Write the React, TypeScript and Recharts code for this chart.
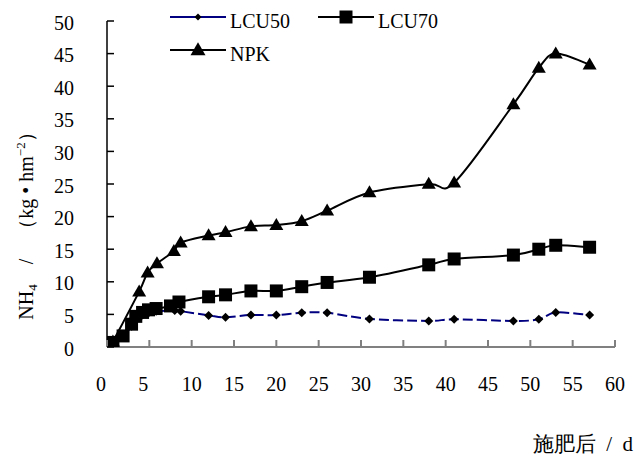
import React from 'react';
import { LineChart, Line, XAxis, YAxis, Legend } from 'recharts';

// ---- data ----
const lcu50Days = [0.7, 1.9, 2.9, 3.4, 4.2, 4.9, 5.8, 8, 8.7, 12, 14, 17, 20, 23, 26, 31, 38, 41, 48, 51, 53, 57];
const lcu50Values = [0.6, 1.6, 3.2, 4.3, 4.9, 5.2, 5.5, 5.6, 5.5, 4.85, 4.55, 4.9, 4.9, 5.25, 5.25, 4.3, 4.0, 4.25, 4.0, 4.25, 5.3, 4.9];

const lcu70Days = [0.7, 1.9, 2.9, 3.4, 4.2, 4.9, 5.8, 7.5, 8.5, 12, 14, 17, 20, 23, 26, 31, 38, 41, 48, 51, 53, 57];
const lcu70Values = [0.7, 1.7, 3.5, 4.7, 5.3, 5.7, 5.9, 6.3, 6.9, 7.7, 8.0, 8.6, 8.6, 9.25, 9.9, 10.7, 12.6, 13.5, 14.1, 15.0, 15.6, 15.3];

const npkDays = [0.7, 3.8, 4.8, 5.9, 7.9, 8.7, 12, 14, 17, 20, 23, 26, 31, 38, 41, 48, 51, 53, 57];
const npkValues = [0.8, 8.5, 11.4, 12.8, 14.7, 16.0, 17.1, 17.6, 18.5, 18.7, 19.3, 20.9, 23.7, 25.0, 25.2, 37.2, 42.8, 45.0, 43.3];

const xTicks = [0, 5, 10, 15, 20, 25, 30, 35, 40, 45, 50, 55, 60];
const yTicks = [0, 5, 10, 15, 20, 25, 30, 35, 40, 45, 50];

const seriesNames = ['LCU50', 'LCU70', 'NPK'];
const xTitle = '施肥后  /  d';

const toRows = (days: number[], vals: number[]) => days.map((d, i) => ({ day: d, value: vals[i] }));
const lcu50Data = toRows(lcu50Days, lcu50Values);
const lcu70Data = toRows(lcu70Days, lcu70Values);
const npkData = toRows(npkDays, npkValues);

const SERIF = "'Liberation Serif', serif";
const NAVY = '#000080';

// Excel-like smoothed line (Catmull-Rom through every point)
const smoothCurve: any = (context: any) => {
  let pts: number[][] = [];
  return {
    areaStart() {},
    areaEnd() {},
    lineStart() {
      pts = [];
    },
    point(x: number, y: number) {
      pts.push([+x, +y]);
    },
    lineEnd() {
      if (!pts.length) return;
      context.moveTo(pts[0][0], pts[0][1]);
      for (let i = 0; i < pts.length - 1; i++) {
        const p0 = pts[i - 1] || pts[i];
        const p1 = pts[i];
        const p2 = pts[i + 1];
        const p3 = pts[i + 2] || p2;
        context.bezierCurveTo(
          p1[0] + (p2[0] - p0[0]) / 6,
          p1[1] + (p2[1] - p0[1]) / 6,
          p2[0] - (p3[0] - p1[0]) / 6,
          p2[1] - (p3[1] - p1[1]) / 6,
          p2[0],
          p2[1],
        );
      }
    },
  };
};

// ---- markers ----
const diamondPath = (cx: number, cy: number, r: number) =>
  `M${cx},${cy - r}L${cx + r},${cy}L${cx},${cy + r}L${cx - r},${cy}Z`;
const squarePath = (cx: number, cy: number, h: number) =>
  `M${cx - h},${cy - h}H${cx + h}V${cy + h}H${cx - h}Z`;
const trianglePath = (cx: number, cy: number, w: number, h: number) =>
  `M${cx},${cy - h * 0.6}L${cx + w / 2},${cy + h * 0.4}L${cx - w / 2},${cy + h * 0.4}Z`;

const DiamondDot = (p: any) =>
  p.cx == null ? <g key={`dd-${p.index}`} /> : <path key={`dd-${p.index}`} d={diamondPath(p.cx, p.cy, 4.5)} fill="#000" />;
const SquareDot = (p: any) =>
  p.cx == null ? <g key={`sd-${p.index}`} /> : <path key={`sd-${p.index}`} d={squarePath(p.cx, p.cy, 6.5)} fill="#000" />;
const TriangleDot = (p: any) =>
  p.cx == null ? <g key={`td-${p.index}`} /> : <path key={`td-${p.index}`} d={trianglePath(p.cx, p.cy, 14, 12)} fill="#000" />;

// ---- ticks ----
const XTick = (props: any) => {
  const { x, y, payload } = props;
  const v = payload.value;
  const shift = String(v).length === 1 ? -6 : 0;
  return (
    <g>
      <line x1={x} y1={y} x2={x} y2={y - 7} stroke="#808080" strokeWidth={2} />
      <text x={x + shift} y={y + 44} textAnchor="middle" fontFamily={SERIF} fontSize={20} fill="#000">
        {v}
      </text>
    </g>
  );
};

const YTick = (props: any) => {
  const { x, y, payload } = props;
  return (
    <g>
      <line x1={x} y1={y} x2={x + 7} y2={y} stroke="#000" strokeWidth={1.5} />
      <text x={x - 33} y={y + 8.5} textAnchor="end" fontFamily={SERIF} fontSize={20} fill="#000">
        {payload.value}
      </text>
    </g>
  );
};

// ---- legend ----
const LegendBox = () => {
  const items = [
    { name: seriesNames[0], x: 10, y: 17, kind: 'diamond' },
    { name: seriesNames[1], x: 158, y: 17, kind: 'square' },
    { name: seriesNames[2], x: 10, y: 50, kind: 'triangle' },
  ];
  return (
    <svg width={320} height={70} style={{ display: 'block' }}>
      {items.map((it) => {
        const mx = it.x + 28;
        const color = it.kind === 'diamond' ? NAVY : '#000';
        return (
          <g key={it.name}>
            <line x1={it.x} y1={it.y} x2={it.x + 56} y2={it.y} stroke={color} strokeWidth={2} />
            {it.kind === 'diamond' && <path d={diamondPath(mx, it.y, 3.5)} fill="#000" />}
            {it.kind === 'square' && <path d={squarePath(mx, it.y, 6.5)} fill="#000" />}
            {it.kind === 'triangle' && <path d={trianglePath(mx, it.y, 15, 13)} fill="#000" />}
            <text x={it.x + 60} y={it.y + 11} fontFamily={SERIF} fontSize={20} fill="#000">
              {it.name}
            </text>
          </g>
        );
      })}
    </svg>
  );
};

export default function App() {
  return (
    <div style={{ position: 'absolute', left: 0, top: 0, width: 644, height: 457, background: '#fff' }}>
      <LineChart width={644} height={457} data={lcu70Data} margin={{ top: 21, right: 29, bottom: 0, left: 0 }}>
        <XAxis
          type="number"
          dataKey="day"
          domain={[0, 60]}
          ticks={xTicks}
          interval={0}
          height={110}
          tickSize={0}
          tickMargin={0}
          tickLine={false}
          axisLine={{ stroke: '#808080', strokeWidth: 2 }}
          tick={<XTick />}
          allowDataOverflow
        />
        <YAxis
          type="number"
          domain={[0, 50]}
          ticks={yTicks}
          interval={0}
          width={107}
          tickSize={0}
          tickMargin={0}
          tickLine={false}
          axisLine={{ stroke: '#000', strokeWidth: 1.5 }}
          tick={<YTick />}
          allowDataOverflow
        />
        <Legend
          layout="horizontal"
          verticalAlign="middle"
          align="center"
          wrapperStyle={{ top: 0, left: 160, width: 320, height: 70 }}
          content={() => <LegendBox />}
        />
        <Line
          data={npkData}
          dataKey="value"
          name={seriesNames[2]}
          type={smoothCurve}
          stroke="#000"
          strokeWidth={2}
          dot={TriangleDot}
          activeDot={false}
          isAnimationActive={false}
        />
        <Line
          data={lcu50Data}
          dataKey="value"
          name={seriesNames[0]}
          type={smoothCurve}
          stroke={NAVY}
          strokeWidth={2}
          strokeDasharray="10 4"
          dot={DiamondDot}
          activeDot={false}
          isAnimationActive={false}
        />
        <Line
          data={lcu70Data}
          dataKey="value"
          name={seriesNames[1]}
          type={smoothCurve}
          stroke="#000"
          strokeWidth={2}
          dot={SquareDot}
          activeDot={false}
          isAnimationActive={false}
        />
      </LineChart>
      <svg width={644} height={457} style={{ position: 'absolute', left: 0, top: 0, pointerEvents: 'none' }}>
        <text
          transform="translate(33,221) rotate(-90)"
          textAnchor="middle"
          fontFamily={SERIF}
          fontSize={20}
          fill="#000"
          style={{ whiteSpace: 'pre' }}
        >
          NH
          <tspan fontSize={13} dy={4}>4</tspan>
          <tspan dy={-4}>{'    /    （kg • hm'}</tspan>
          <tspan fontSize={13} dy={-8}>−2</tspan>
          <tspan dy={8}>）</tspan>
        </text>
        <text
          x={633}
          y={451}
          textAnchor="end"
          fontFamily={SERIF}
          fontSize={21}
          fill="#000"
          style={{ whiteSpace: 'pre' }}
        >
          {xTitle}
        </text>
      </svg>
    </div>
  );
}
